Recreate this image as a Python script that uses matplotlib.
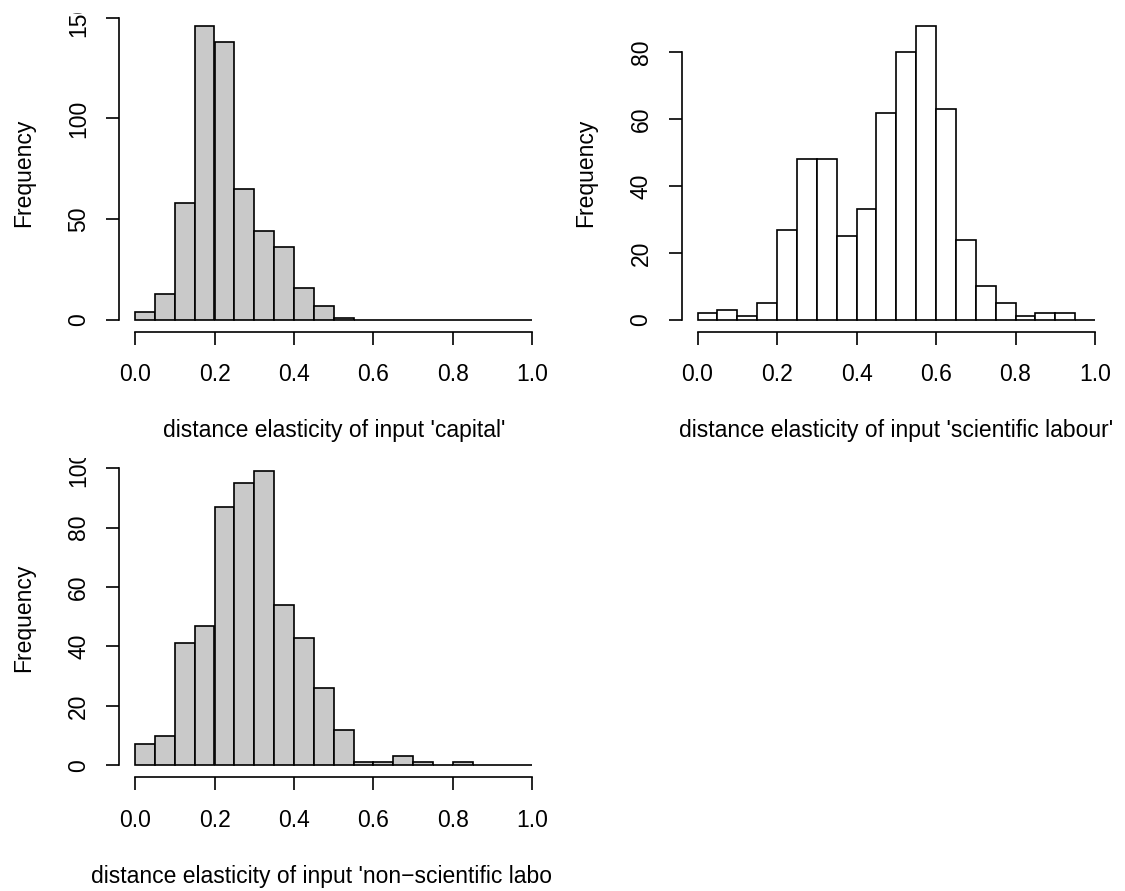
import matplotlib
matplotlib.use("Agg")
import matplotlib.pyplot as plt
import numpy as np
from matplotlib.transforms import Bbox, TransformedBbox

W, H = 1125, 891          # output size in pixels (dpi 100)
FS = 16.5                 # ~23 px em, like the R png
LW = 1.2
GREY = "#c9c9c9"

plt.rcParams.update({
    "font.family": ["Liberation Sans", "DejaVu Sans"],
    "font.size": FS,
    "axes.linewidth": LW,
})

# histogram bins and counts
BREAKS = np.round(np.arange(0, 1.0001, 0.05), 2)
CAPITAL = [4, 13, 58, 146, 138, 65, 44, 36, 16, 7, 1, 0, 0, 0, 0, 0, 0, 0, 0, 0]
SCI_LABOUR = [2, 3, 1, 5, 27, 48, 48, 25, 33, 62, 80, 88, 63, 24, 10, 5, 1, 2, 2, 0]
NONSCI_LABOUR = [7, 10, 41, 47, 87, 95, 99, 54, 43, 26, 12, 1, 1, 3, 1, 0, 1, 0, 0, 0]

XTICKS = [0.0, 0.2, 0.4, 0.6, 0.8, 1.0]
XTICK_LABELS = ["0.0", "0.2", "0.4", "0.6", "0.8", "1.0"]
YTICKS_CAPITAL = [0, 50, 100, 150]
YTICKS_SCI = [0, 20, 40, 60, 80]
YTICKS_NONSCI = [0, 20, 40, 60, 80, 100]

XLAB_CAPITAL = "distance elasticity of input 'capital'"
XLAB_SCI = "distance elasticity of input 'scientific labour'"
XLAB_NONSCI = "distance elasticity of input 'non\u2212scientific labour'"


def fig_frac(x, y):
    # pixel coords with origin top-left -> figure fraction
    return x / W, 1 - y / H


def clip_box(fig, left, top, right, bottom):
    x0, y0 = fig_frac(left, bottom)
    x1, y1 = fig_frac(right, top)
    return TransformedBbox(Bbox.from_extents(x0, y0, x1, y1), fig.transFigure)


def hist_panel(fig, counts, fill, yticks, xlabel, rect, region):
    left, top, right, bottom = rect
    x0, y0 = fig_frac(left, bottom)
    ax = fig.add_axes([x0, y0, (right - left) / W, (bottom - top) / H])
    counts = np.asarray(counts)
    ax.bar(BREAKS[:-1], counts, width=np.diff(BREAKS), align="edge",
           color=fill, edgecolor="black", linewidth=LW)

    peak = counts.max()
    ax.set_xlim(-0.04, 1.04)
    ax.set_ylim(-0.04 * peak, 1.04 * peak)
    ax.set_xticks(XTICKS)
    ax.set_xticklabels(XTICK_LABELS)
    ax.set_yticks(yticks)
    ax.set_yticklabels([str(v) for v in yticks])
    ax.spines[["top", "right"]].set_visible(False)
    ax.spines["left"].set_bounds(yticks[0], yticks[-1])
    ax.spines["bottom"].set_bounds(0, 1)
    ax.tick_params(direction="out", length=9.4, width=LW, labelsize=FS)
    ax.tick_params(axis="x", pad=13.5)
    ax.tick_params(axis="y", pad=15.1)

    # R clips margin text to the figure region
    clip = clip_box(fig, *region)
    for lab in ax.get_yticklabels():
        lab.set_rotation(90)
        lab.set_rotation_mode("anchor")
        lab.set_ha("center")
        lab.set_va("baseline")
        lab.set_clip_box(clip)
        lab.set_clip_on(True)
    for lab in ax.get_xticklabels():
        lab.set_clip_box(clip)
        lab.set_clip_on(True)

    # axis titles, placed like R's mtext
    panel_top = region[1] - 12.5
    cx = (left + right) / 2
    t = fig.text(*fig_frac(cx, panel_top + 437), xlabel, ha="center", va="baseline")
    t.set_clip_box(clip)
    t.set_clip_on(True)
    fig.text(*fig_frac(left - 89, (top + bottom) / 2), "Frequency",
             rotation=90, rotation_mode="anchor", ha="center", va="baseline")
    return ax


fig = plt.figure(figsize=(W / 100, H / 100), dpi=100)

hist_panel(fig, CAPITAL, GREY, YTICKS_CAPITAL, XLAB_CAPITAL,
           rect=(119.1, 14, 548.4, 331.5), region=(0, 12.5, 562.5, 458))
hist_panel(fig, SCI_LABOUR, "white", YTICKS_SCI, XLAB_SCI,
           rect=(681.6, 14, 1110.9, 331.5), region=(562.5, 12.5, 1125, 458))
hist_panel(fig, NONSCI_LABOUR, GREY, YTICKS_NONSCI, XLAB_NONSCI,
           rect=(119.1, 459.5, 548.4, 777), region=(0, 458, 553, 891))

fig.savefig("out.png", dpi=100, facecolor="white")
